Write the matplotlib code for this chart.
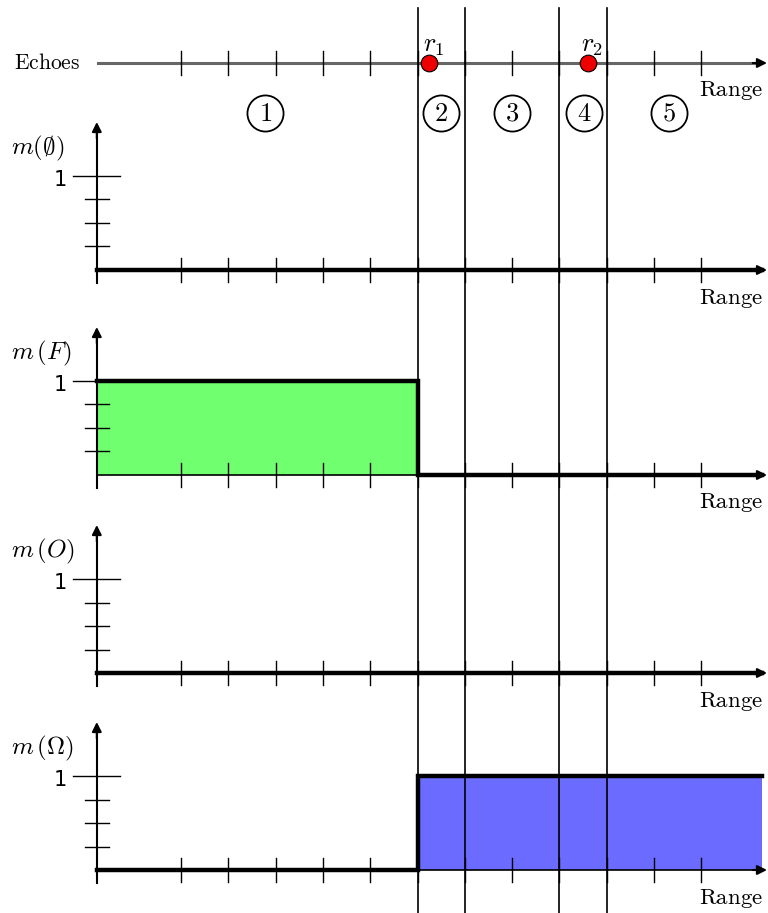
import matplotlib
matplotlib.use("Agg")
import matplotlib.pyplot as plt

plt.rcParams['mathtext.fontset'] = 'cm'

# ---------------- data ----------------
range_ticks = [1, 2, 3, 4, 5, 6, 7, 8, 9, 10, 11, 12]
boundaries = [6, 7, 9, 10]                 # vertical separators
region_edges = [-0.78, 6, 7, 9, 10, 13.28]  # start/end of regions 1..5
region_labels = ['1', '2', '3', '4', '5']
region_label_x = [2.78, 6.5, 8.0, 9.52, 11.32]
echo_ranges = [6.25, 9.6]
echo_names = [r'$r_1$', r'$r_2$']
panel_names = [r'$m(\emptyset)$', r'$m\,(F)$', r'$m\,(O)$', r'$m\,(\Omega)$']
m_empty = [0, 0, 0, 0, 0]
m_F = [1, 0, 0, 0, 0]
m_O = [0, 0, 0, 0, 0]
m_Omega = [0, 1, 1, 1, 1]
masses = [m_empty, m_F, m_O, m_Omega]
fills = [None, '#6fff6f', None, '#6b6bff']
y_ticks = [0.25, 0.5, 0.75, 1.0]

# ---------------- layout ----------------
W, H = 768, 913
PXU = 47.3      # px per range unit
X0PX = 133.7    # px position of range 0
PYU = 94.0      # px per mass unit
def X(px):
    return (px - X0PX) / PXU
def Y(py):
    return (H - py) / PYU

y_axis_x = -0.78
x_end = X(767)
baselines = [Y(270), Y(475), Y(673), Y(870)]
echo_y = Y(63)
tick_h = 12 / PYU

fig = plt.figure(figsize=(W / 100, H / 100), dpi=100)
ax = fig.add_axes([0, 0, 1, 1])
ax.set_xlim(X(0), X(W))
ax.set_ylim(0, H / PYU)
ax.axis('off')

def arrow(x0, y0, x1, y1, color='black', lw=1.5):
    ax.annotate('', xy=(x1, y1), xytext=(x0, y0),
                arrowprops=dict(arrowstyle='-|>', lw=lw, color=color,
                                mutation_scale=14, shrinkA=0, shrinkB=0),
                zorder=3)

# vertical separators
for b in boundaries:
    ax.plot([b, b], [0, Y(8)], color='black', lw=1.2, zorder=6)

# Echoes axis
ax.plot([X(98), x_end - 0.2], [echo_y, echo_y], color='#666666', lw=2.2, zorder=2)
arrow(x_end - 0.3, echo_y, x_end, echo_y)
for t in range_ticks:
    ax.plot([t, t], [echo_y - tick_h, echo_y + tick_h], color='black', lw=1.0, zorder=3)
ax.text(X(14), echo_y, r'$\mathrm{Echoes}$', fontsize=15.5, ha='left', va='center')
ax.text(12.63, echo_y - 27 / PYU, r'$\mathrm{Range}$', fontsize=16.5, ha='center', va='center')
for r, name in zip(echo_ranges, echo_names):
    ax.plot(r, echo_y, 'o', ms=12, mfc='#ee0000', mec='black', mew=0.8, zorder=8)
    ax.text(r + 0.1, echo_y + 18 / PYU, name, fontsize=19, ha='center', va='center')

# region labels
for lab, lx in zip(region_labels, region_label_x):
    ax.plot(lx, Y(113), 'o', ms=26, mfc='white', mec='black', mew=1.3, zorder=7)
    ax.text(lx, Y(113) - 0.01, r'$\mathrm{%s}$' % lab, fontsize=19, ha='center', va='center', zorder=9)

# panels
for base, name, m, fc in zip(baselines, panel_names, masses, fills):
    # x axis
    ax.plot([y_axis_x, x_end - 0.2], [base, base], color='black', lw=1.2, zorder=2)
    arrow(x_end - 0.3, base, x_end, base)
    for t in range_ticks:
        ax.plot([t, t], [base - tick_h, base + tick_h], color='black', lw=1.0, zorder=3)
    # y axis
    ax.plot([y_axis_x, y_axis_x], [base - 13 / PYU, base + 1.45], color='black', lw=1.5, zorder=3)
    arrow(y_axis_x, base + 1.4, y_axis_x, base + 148 / PYU)
    for yt in y_ticks:
        half = 0.5 if yt == 1.0 else 0.26
        ax.plot([y_axis_x - half, y_axis_x + half],
                [base + yt, base + yt], color='black', lw=1.0, zorder=3)
    ax.text(-1.56, base + 0.96, '1', fontsize=15, ha='center', va='center',
            family='DejaVu Sans')
    ax.text(X(11), base + 1.29, name, fontsize=18, ha='left', va='center')
    ax.text(12.63, base - 28 / PYU, r'$\mathrm{Range}$', fontsize=16.5, ha='center', va='center')
    # mass step function
    xs, ys = [], []
    for i, v in enumerate(m):
        xs += [region_edges[i], region_edges[i + 1]]
        ys += [base + v, base + v]
    if fc is not None:
        ax.fill_between(xs, [base] * len(xs), ys, color=fc, lw=0, zorder=1)
    ax.plot(xs, ys, color='black', lw=3.2, zorder=5, solid_joinstyle='miter')

fig.savefig('out.png', dpi=100)
